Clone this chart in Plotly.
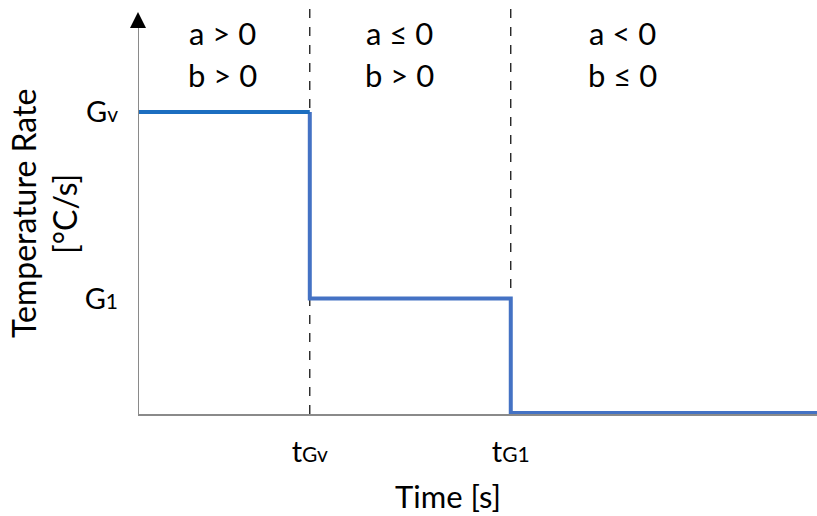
import plotly.graph_objects as go

# Data (abstract units)
x_end = 10.0
t_Gv = 2.53
t_G1 = 5.49
G_v = 1.0
G_1 = 0.38
y_top = 1.372
y_bottom = -0.0033

seg1_x = [0, t_Gv]
seg1_y = [G_v, G_v]
seg2_x = [t_Gv, t_Gv, t_G1, t_G1, x_end]
seg2_y = [G_v, G_1, G_1, 0, 0]

region_x = [1.24, 3.85, 7.13]
region_line1 = ["a > 0", "a ≤ 0", "a < 0"]
region_line2 = ["b > 0", "b > 0", "b ≤ 0"]

y_title = ["Temperature Rate", "[°C/s]"]
x_title = "Time [s]"

FONT = "Lato"
SIZE = 31
SMALL = "<span style='font-size:21px'>{}</span>"
PLOT_W = 679
PLOT_H = 414


def py(p):
    """pixel row -> paper y"""
    return (PLOT_H - p) / PLOT_H


def px(p):
    """pixel column -> paper x"""
    return (p - 138) / PLOT_W


fig = go.Figure()
fig.add_trace(go.Scatter(x=seg2_x, y=seg2_y, mode="lines",
                         line=dict(color="#4472C4", width=4), hoverinfo="skip"))
fig.add_trace(go.Scatter(x=seg1_x, y=seg1_y, mode="lines",
                         line=dict(color="#1C6EC0", width=4), hoverinfo="skip"))

shapes = []
for tx in [t_Gv, t_G1]:
    shapes.append(dict(type="line", xref="x", yref="paper", x0=tx, x1=tx, y0=0, y1=py(8),
                       line=dict(color="black", width=1.2, dash="dash"), layer="below"))
# y axis line
shapes.append(dict(type="line", xref="x", yref="paper", x0=0, x1=0, y0=0, y1=py(18),
                   line=dict(color="#8a8a8a", width=2)))
annotations = []
# arrow head on y axis
annotations.append(dict(x=0, y=py(12), xref="x", yref="paper", ax=0, ay=10, axref="pixel",
                        ayref="pixel", showarrow=True, arrowhead=2, arrowsize=1.6,
                        arrowwidth=2, arrowcolor="black", text=""))
for rx, l1, l2 in zip(region_x, region_line1, region_line2):
    annotations.append(dict(x=rx, y=py(33), xref="x", yref="paper", text=l1, showarrow=False,
                            font=dict(family=FONT, size=SIZE, color="black"),
                            yanchor="middle"))
    annotations.append(dict(x=rx, y=py(75), xref="x", yref="paper", text=l2, showarrow=False,
                            font=dict(family=FONT, size=SIZE, color="black"),
                            yanchor="middle"))

for tx_pix, line in zip([23, 64], y_title):
    annotations.append(dict(x=px(tx_pix), y=py(214), xref="paper", yref="paper",
                            text=line, textangle=-90, showarrow=False,
                            font=dict(family=FONT, size=32, color="black"),
                            xanchor="center", yanchor="middle"))
annotations.append(dict(x=px(448), y=py(496), xref="paper", yref="paper", text=x_title,
                        showarrow=False, font=dict(family=FONT, size=SIZE, color="black"),
                        xanchor="center", yanchor="middle"))

fig.update_layout(
    width=817, height=516,
    margin=dict(l=138, r=0, t=0, b=102, autoexpand=False),
    paper_bgcolor="white", plot_bgcolor="white",
    showlegend=False,
    shapes=shapes, annotations=annotations,
    xaxis=dict(range=[0, x_end], showgrid=False, zeroline=False, showline=True,
               linecolor="#8a8a8a", linewidth=2, automargin=False,
               tickvals=[t_Gv, t_G1],
               ticktext=["t" + SMALL.format("Gv"), "t" + SMALL.format("G1")],
               ticks="", ticklabelstandoff=11,
               tickfont=dict(family=FONT, size=29, color="black")),
    yaxis=dict(range=[y_bottom, y_top], showgrid=False, zeroline=False, showline=False,
               automargin=False,
               tickvals=[G_v, G_1],
               ticktext=["G" + SMALL.format("v"), "G" + SMALL.format("1")],
               ticks="", ticklabelstandoff=19,
               tickfont=dict(family=FONT, size=29, color="black")),
)
fig.write_html("out.html", config={"displayModeBar": False},
               post_script="document.body.style.margin='0px';")
